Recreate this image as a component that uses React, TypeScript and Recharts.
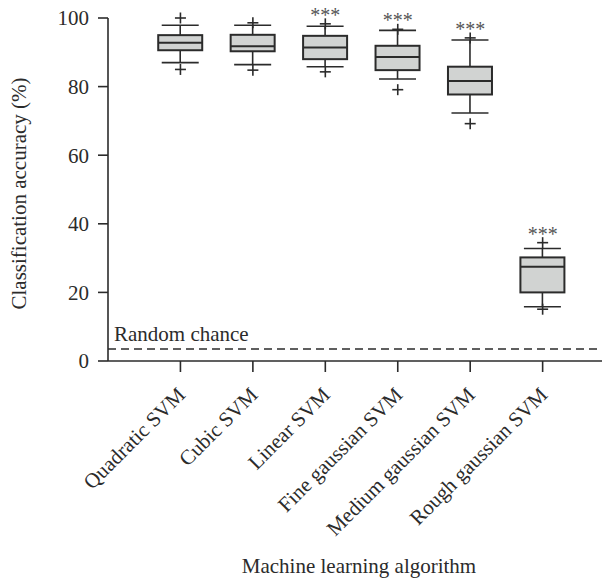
import React from 'react';
import { ComposedChart, XAxis, YAxis, Bar, Scatter, ReferenceLine, Label } from 'recharts';

const categories = [
  'Quadratic SVM',
  'Cubic SVM',
  'Linear SVM',
  'Fine gaussian SVM',
  'Medium gaussian SVM',
  'Rough gaussian SVM',
];
const whiskerLow = [87.0, 86.4, 85.8, 82.2, 72.3, 15.8];
const quartile1 = [90.6, 90.3, 88.0, 84.8, 77.7, 20.0];
const medians = [92.8, 91.8, 91.4, 88.6, 81.6, 27.5];
const quartile3 = [95.0, 95.1, 94.8, 91.9, 85.8, 30.2];
const whiskerHigh = [97.9, 97.9, 97.6, 96.4, 93.6, 32.8];
const pointLow = [85.0, 84.8, 84.3, 79.1, 69.2, 15.1];
const pointHigh = [100, 98.6, 98.3, 96.7, 94.2, 34.5];
const significance = ['', '', '***', '***', '***', '***'];
const yTicks = [0, 20, 40, 60, 80, 100];
const randomChance = 3.5;

const data = categories.map((name, i) => ({
  x: i + 1,
  name,
  whisker: [whiskerLow[i], whiskerHigh[i]],
  box: [quartile1[i], quartile3[i]],
  median: medians[i],
  lo: pointLow[i],
  hi: pointHigh[i],
  sig: significance[i],
}));

const FONT = '"Liberation Serif", "Times New Roman", serif';
const INK = '#2b2b2b';
const BOX_FILL = '#d1d3d2';
const BOX_W = 44;
const CAP_HALF = 18.5;

const WhiskerShape = (props: any) => {
  const { x, y, width, height } = props;
  const top = Math.min(y, y + height);
  const bot = Math.max(y, y + height);
  const cx = x + width / 2;
  return (
    <g stroke={INK} strokeWidth={1.6} fill="none">
      <line x1={cx} x2={cx} y1={top} y2={bot} />
      <line x1={cx - CAP_HALF} x2={cx + CAP_HALF} y1={top} y2={top} />
      <line x1={cx - CAP_HALF} x2={cx + CAP_HALF} y1={bot} y2={bot} />
    </g>
  );
};

const BoxShape = (props: any) => {
  const { x, y, width, height } = props;
  const top = Math.min(y, y + height);
  return (
    <rect x={x} y={top} width={width} height={Math.abs(height)} fill={BOX_FILL} stroke={INK} strokeWidth={2} />
  );
};

const MedianShape = (props: any) => {
  const { cx, cy } = props;
  return <line x1={cx - BOX_W / 2} x2={cx + BOX_W / 2} y1={cy} y2={cy} stroke={INK} strokeWidth={2} />;
};

const Plus = ({ cx, cy }: { cx: number; cy: number }) => (
  <g stroke={INK} strokeWidth={1.6}>
    <line x1={cx - 5.5} x2={cx + 5.5} y1={cy} y2={cy} />
    <line x1={cx} x2={cx} y1={cy - 5.5} y2={cy + 5.5} />
  </g>
);

const LowShape = (props: any) => <Plus cx={props.cx} cy={props.cy} />;

const HighShape = (props: any) => {
  const { cx, cy, payload } = props;
  return (
    <g>
      <Plus cx={cx} cy={cy} />
      {payload && payload.sig ? (
        <text x={cx} y={cy - 2} textAnchor="middle" fontFamily={FONT} fontSize={20} fill="#555">
          {payload.sig}
        </text>
      ) : null}
    </g>
  );
};

const XTick = (props: any) => {
  const { x, y, payload } = props;
  const label = categories[Math.round(payload.value) - 1] ?? '';
  return (
    <g transform={`translate(${x + 6},${y + 24})`}>
      <text textAnchor="end" transform="rotate(-45)" fontFamily={FONT} fontSize={21} fill={INK}>
        {label}
      </text>
    </g>
  );
};

const XTitle = (props: any) => {
  const vb = props.viewBox || {};
  return (
    <text x={vb.x + vb.width / 2} y={vb.y + 212} textAnchor="middle" fontFamily={FONT} fontSize={21} fill={INK}>
      Machine learning algorithm
    </text>
  );
};

const YTitle = (props: any) => {
  const vb = props.viewBox || {};
  const x = vb.x + 18;
  const y = vb.y + vb.height / 2 + 4;
  return (
    <text x={x} y={y} transform={`rotate(-90, ${x}, ${y})`} textAnchor="middle" fontFamily={FONT} fontSize={21} fill={INK}>
      Classification accuracy (%)
    </text>
  );
};

const ChanceLabel = (props: any) => {
  const vb = props.viewBox || {};
  return (
    <text x={vb.x + 6} y={vb.y - 8} fontFamily={FONT} fontSize={21} fill={INK}>
      Random chance
    </text>
  );
};

export default function App() {
  return (
    <div style={{ width: 602, height: 582, marginTop: -8 }}>
      <ComposedChart
        width={602}
        height={582}
        data={data}
        margin={{ top: 18, right: 0, bottom: 0, left: 0 }}
        barGap={-BOX_W}
      >
        <XAxis
          dataKey="x"
          type="number"
          domain={[0, 6.93]}
          ticks={[1, 2, 3, 4, 5, 6]}
          interval={0}
          height={221}
          tickSize={11}
          tickMargin={0}
          tick={<XTick />}
          axisLine={{ stroke: INK, strokeWidth: 1.6 }}
          tickLine={{ stroke: INK, strokeWidth: 1.6 }}
        >
          <Label content={<XTitle />} />
        </XAxis>
        <YAxis
          type="number"
          domain={[0, 100]}
          ticks={yTicks}
          width={100}
          tickSize={10}
          tickMargin={9}
          tick={{ fontFamily: FONT, fontSize: 21, fill: INK }}
          axisLine={{ stroke: INK, strokeWidth: 1.6 }}
          tickLine={{ stroke: INK, strokeWidth: 1.6 }}
        >
          <Label content={<YTitle />} />
        </YAxis>
        <ReferenceLine
          y={randomChance}
          stroke={INK}
          strokeWidth={1.6}
          strokeDasharray="8 5"
          label={<ChanceLabel />}
        />
        <Bar dataKey="whisker" barSize={BOX_W} shape={<WhiskerShape />} isAnimationActive={false} />
        <Bar dataKey="box" barSize={BOX_W} shape={<BoxShape />} isAnimationActive={false} />
        <Scatter dataKey="median" shape={<MedianShape />} isAnimationActive={false} />
        <Scatter dataKey="lo" shape={<LowShape />} isAnimationActive={false} />
        <Scatter dataKey="hi" shape={<HighShape />} isAnimationActive={false} />
      </ComposedChart>
    </div>
  );
}
